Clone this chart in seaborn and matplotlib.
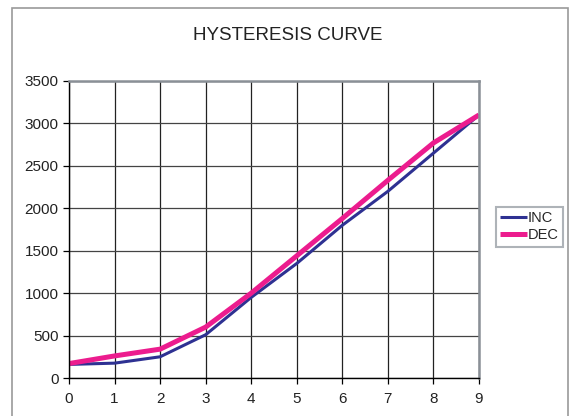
import pandas as pd
import matplotlib
matplotlib.use("Agg")
import matplotlib.pyplot as plt
import seaborn as sns
from matplotlib.patches import Rectangle

# --- data ---
X_VALS = [0, 1, 2, 3, 4, 5, 6, 7, 8, 9]
INC = [160, 175, 250, 510, 950, 1350, 1800, 2200, 2650, 3100]
DEC = [170, 260, 340, 600, 1000, 1440, 1880, 2330, 2770, 3100]
SERIES = ["INC", "DEC"]
COLORS = {"INC": "#2E3192", "DEC": "#EC1C8E"}
WIDTHS = {"INC": 2.2, "DEC": 3.6}

df = pd.DataFrame({
    "x": X_VALS * 2,
    "y": INC + DEC,
    "series": ["INC"] * len(X_VALS) + ["DEC"] * len(X_VALS),
})

sns.set_theme(style="white")
plt.rcParams['font.family'] = ['Liberation Sans', 'DejaVu Sans']

fig = plt.figure(figsize=(5.69, 4.16), dpi=100)
ax = fig.add_axes([69 / 569, 1 - 378 / 416, 410 / 569, 297 / 416])

for s in SERIES:
    sub = df[df["series"] == s]
    sns.lineplot(data=sub, x="x", y="y", color=COLORS[s], linewidth=WIDTHS[s],
                 label=s, ax=ax, solid_capstyle="butt")

ax.set_xlim(0, 9)
ax.set_ylim(0, 3500)
ax.set_xticks(range(0, 10))
ax.set_yticks(range(0, 3501, 500))
ax.grid(True, axis="x", color="#222222", linewidth=0.9)
ax.grid(True, axis="y", color="#444444", linewidth=0.9)
ax.set_xlabel("")
ax.set_ylabel("")
ax.tick_params(axis="both", which="both", direction="out", length=4, width=0.9,
               color="black", labelsize=11, labelcolor="#222222", bottom=True, left=True)
ax.tick_params(axis="x", pad=6)
for side in ["left", "bottom"]:
    ax.spines[side].set_color("black")
    ax.spines[side].set_linewidth(1.0)
for side in ["top", "right"]:
    ax.spines[side].set_color("#8a9097")
    ax.spines[side].set_linewidth(1.8)

fig.text(288 / 569, 1 - 36 / 416, "HYSTERESIS CURVE", ha="center", va="center",
         fontsize=13.5, color="#222222")

leg = ax.legend(loc="upper left", bbox_to_anchor=(496 / 569, 1 - 207 / 416),
                bbox_transform=fig.transFigure, frameon=True, fancybox=False,
                fontsize=10.5, handlelength=1.8, handletextpad=0.05, borderpad=0.3,
                labelspacing=0.2, borderaxespad=0)
leg.get_frame().set_edgecolor("#9aa0a6")
leg.get_frame().set_linewidth(1.5)

fig.patches.append(Rectangle((12 / 569, -0.05), 556 / 569, 1.05 - 8 / 416,
                             transform=fig.transFigure, fill=False,
                             edgecolor="#9a9a9a", linewidth=1.2))

fig.savefig("out.png", dpi=100)
